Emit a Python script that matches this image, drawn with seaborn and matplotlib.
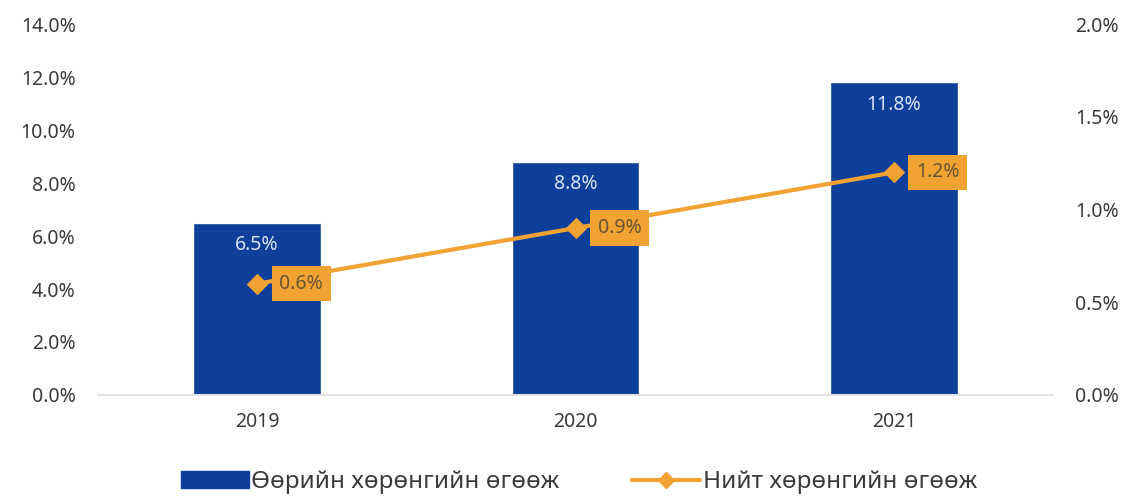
import numpy as np
import pandas as pd
import seaborn as sns
import matplotlib.pyplot as plt
from matplotlib.lines import Line2D
from matplotlib.patches import Patch

years = ["2019", "2020", "2021"]
own_growth = [6.5, 8.8, 11.8]      # Өөрийн хөрөнгийн өгөөж, %
total_growth = [0.6, 0.9, 1.2]     # Нийт хөрөнгийн өгөөж, %

bar_color = "#0e3f9b"
line_color = "#f0a232"
text_color = "#3a3a3a"

sns.set_style("white")
plt.rcParams['font.family'] = ['Noto Sans', 'DejaVu Sans']

df = pd.DataFrame({"year": years, "own": own_growth, "total": total_growth})

fig = plt.figure(figsize=(11.35, 5.01), dpi=100)
ax = fig.add_axes([0.0863, 0.2116, 0.8415, 0.7404])

sns.barplot(data=df, x="year", y="own", color=bar_color, width=0.4,
            saturation=1, ax=ax)
ax.set_ylim(0, 14)
ax.set_xlim(-0.5, 2.5)
ax.set_yticks(np.arange(0, 14.1, 2))
ax.set_yticklabels([f"{v:.1f}%" for v in np.arange(0, 14.1, 2)])
ax.set_xlabel("")
ax.set_ylabel("")
for s in ["top", "right", "left"]:
    ax.spines[s].set_visible(False)
ax.spines["bottom"].set_color("#e2e2e2")
ax.spines["bottom"].set_linewidth(1.5)
ax.tick_params(axis="y", length=0, pad=16, labelsize=14, labelcolor=text_color)
ax.tick_params(axis="x", length=0, pad=12, labelsize=14, labelcolor=text_color)

for i, v in enumerate(own_growth):
    ax.annotate(f"{v}%", (i, v), xytext=(0, -16), textcoords="offset points",
                ha="center", va="center", color="#d6e4f7", fontsize=14)

ax2 = ax.twinx()
sns.lineplot(x=np.arange(len(years)), y=total_growth, color=line_color,
             linewidth=3, marker="D", markersize=10, markeredgecolor=line_color,
             ax=ax2)
ax2.set_ylim(0, 2)
ax2.set_yticks(np.arange(0, 2.01, 0.5))
ax2.set_yticklabels([f"{v:.1f}%" for v in np.arange(0, 2.01, 0.5)])
for s in ax2.spines.values():
    s.set_visible(False)
ax2.tick_params(axis="y", length=0, pad=16, labelsize=14, labelcolor=text_color)

for i, v in enumerate(total_growth):
    ax2.annotate(f"{v}%", (i, v), xytext=(16, 0), textcoords="offset points",
                 ha="left", va="center", color="#6a5630", fontsize=14,
                 bbox=dict(boxstyle="square,pad=0.4", fc=line_color, ec="none"))

handles = [Patch(color=bar_color),
           Line2D([], [], color=line_color, lw=3, marker="D", markersize=8)]
labels = ["Өөрийн хөрөнгийн өгөөж", "Нийт хөрөнгийн өгөөж"]
fig.legend(handles, labels, loc="lower center", bbox_to_anchor=(0.51, -0.03),
           ncol=2, frameon=False, fontsize=17.5, handlelength=2.8,
           handletextpad=0.1, columnspacing=3.0, labelcolor=text_color)

fig.savefig("out.png", dpi=100)
